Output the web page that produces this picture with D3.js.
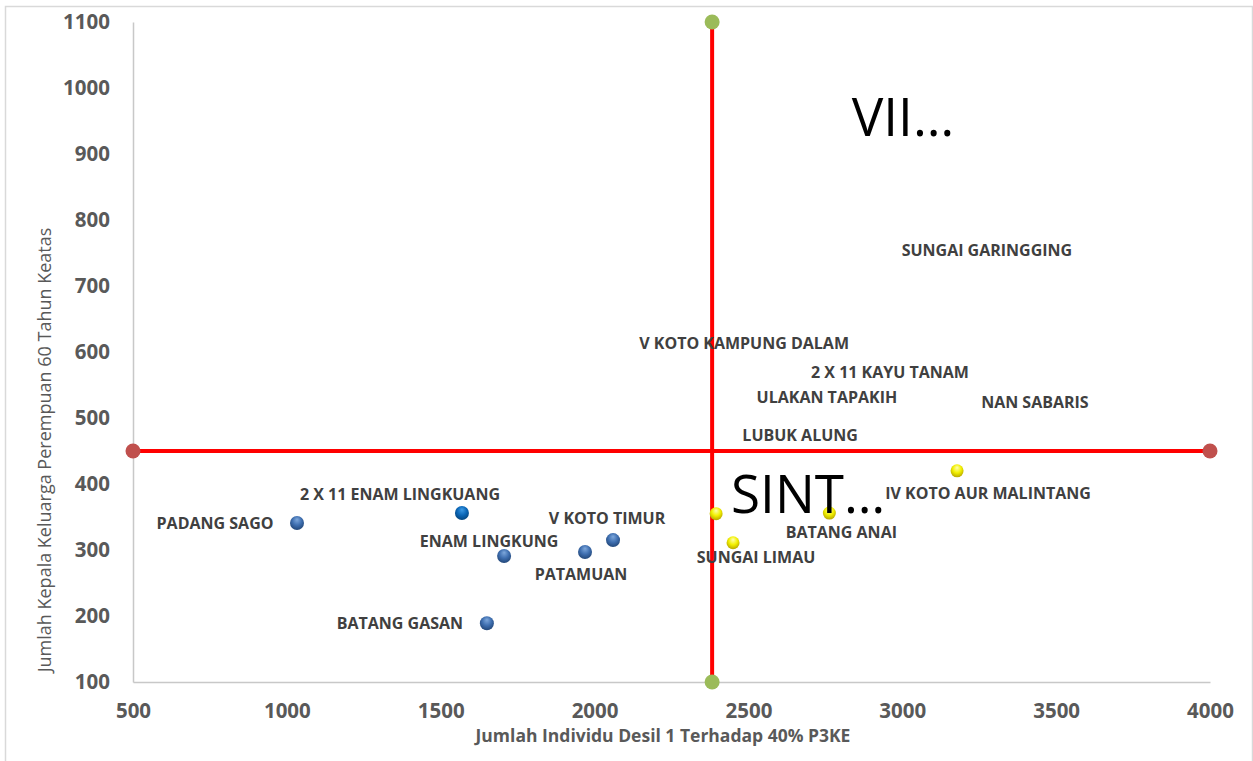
<!DOCTYPE html>
<html>
<head>
<meta charset="utf-8">
<script src="https://cdn.jsdelivr.net/npm/d3@7"></script>
<style>
body { margin: 0; background: #fff; }
svg { display: block; }
</style>
</head>
<body>
<div id="chart"></div>
<script>
// kecamatan data (x: individu desil 1, y: KK perempuan 60+)
const names = [
    'PADANG SAGO', '2 X 11 ENAM LINGKUANG', 'ENAM LINGKUNG', 'BATANG GASAN', 'PATAMUAN', 'V KOTO TIMUR',
    'SINT\u2026', 'SUNGAI LIMAU', 'BATANG ANAI', 'IV KOTO AUR MALINTANG',
    'V KOTO KAMPUNG DALAM', '2 X 11 KAYU TANAM', 'ULAKAN TAPAKIH', 'NAN SABARIS', 'LUBUK ALUNG',
    'SUNGAI GARINGGING', 'VII\u2026'
]
const xVals = [1033, 1569, 1706, 1650, 1969, 2060, 2395, 2450, 2763, 3178, 2486, 2960, 2755, 3431, 2668, 3275, 3002]
const yVals = [341, 356, 291, 189, 297, 315, 355, 311, 356, 420, 614, 570, 532, 524, 474, 755, 958]
const groups = ['blue', 'blue2', 'blue', 'blue', 'blue', 'blue',
    'yellow', 'yellow', 'yellow', 'yellow',
    'none', 'none', 'none', 'none', 'none', 'none', 'none']

// quadrant reference lines
const meanX = 2382
const meanY = 450
const xDomain = [500, 4000]
const yDomain = [100, 1100]
const xTicks = [500, 1000, 1500, 2000, 2500, 3000, 3500, 4000]
const yTicks = [100, 200, 300, 400, 500, 600, 700, 800, 900, 1000, 1100]

const xTitle = 'Jumlah Individu Desil 1 Terhadap 40% P3KE'
const yTitle = 'Jumlah Kepala Keluarga Perempuan 60 Tahun Keatas'

// label offsets (px, label centre relative to point)
const labelOffset = {
    'PADANG SAGO': [-82, 0],
    '2 X 11 ENAM LINGKUANG': [-62, -19],
    'ENAM LINGKUNG': [-15, -15],
    'BATANG GASAN': [-87, 0],
    'PATAMUAN': [-4, 22],
    'V KOTO TIMUR': [-6, -22],
    'SINT\u2026': [92, -21],
    'SUNGAI LIMAU': [23, 14],
    'BATANG ANAI': [12, 19],
    'IV KOTO AUR MALINTANG': [31, 22]
}

const width = 1253, height = 761
const font = '"Open Sans", "Noto Sans", sans-serif'

let svg = d3.select('#chart').append('svg')
    .attr('width', width)
    .attr('height', height)

// chart border
svg.append('path')
    .attr('d', `M5.5,${height} V6.5 H1252.5 V${height}`)
    .attr('fill', 'none')
    .attr('stroke', '#d9d9d9')
    .attr('stroke-width', 1.5)

let x = d3.scaleLinear().domain(xDomain).range([133, 1210])
let y = d3.scaleLinear().domain(yDomain).range([682, 22])

let defs = svg.append('defs')
function sphere(id, light, mid, dark) {
    let g = defs.append('radialGradient')
        .attr('id', id)
        .attr('cx', '50%').attr('cy', '40%').attr('r', '60%')
        .attr('fx', '50%').attr('fy', '25%')
    g.append('stop').attr('offset', '0%').attr('stop-color', light)
    g.append('stop').attr('offset', '55%').attr('stop-color', mid)
    g.append('stop').attr('offset', '100%').attr('stop-color', dark)
}
sphere('g-blue', '#7ea8dc', '#3f6fb0', '#23487a')
sphere('g-blue2', '#3d9be6', '#0b67b8', '#03457f')
sphere('g-yellow', '#ffffb0', '#f2f000', '#b8a800')

// axes
let xAxis = svg.append('g')
    .attr('transform', `translate(0,${y(yDomain[0])})`)
    .call(d3.axisBottom(x).tickValues(xTicks).tickSize(0).tickPadding(21).tickFormat(d3.format('d')))
let yAxis = svg.append('g')
    .attr('transform', `translate(${x(xDomain[0])},0)`)
    .call(d3.axisLeft(y).tickValues(yTicks).tickSize(0).tickPadding(23).tickFormat(d3.format('d')))

;[xAxis, yAxis].forEach(ax => {
    ax.select('.domain').attr('stroke', '#c8c8c8').attr('stroke-width', 1.5)
    ax.selectAll('text')
        .attr('font-family', font)
        .attr('font-size', 20.5)
        .attr('font-weight', 700)
        .attr('fill', '#595959')
})
xAxis.selectAll('text').attr('dy', '0.71em')

svg.append('text')
    .attr('x', 663)
    .attr('y', 735)
    .attr('text-anchor', 'middle')
    .attr('dominant-baseline', 'central')
    .attr('font-family', font)
    .attr('font-size', 17.5)
    .attr('font-weight', 700)
    .attr('fill', '#595959')
    .text(xTitle)

svg.append('text')
    .attr('transform', 'translate(44,450) rotate(-90)')
    .attr('text-anchor', 'middle')
    .attr('dominant-baseline', 'central')
    .attr('font-family', font)
    .attr('font-size', 18)
    .attr('fill', '#595959')
    .text(yTitle)

// red quadrant lines
let refGroup = svg.append('g')
refGroup.append('line')
    .attr('x1', x(xDomain[0])).attr('x2', x(xDomain[1]))
    .attr('y1', y(meanY)).attr('y2', y(meanY))
    .attr('stroke', '#ff0000').attr('stroke-width', 4)
refGroup.append('line')
    .attr('x1', x(meanX)).attr('x2', x(meanX))
    .attr('y1', y(yDomain[0])).attr('y2', y(yDomain[1]))
    .attr('stroke', '#ff0000').attr('stroke-width', 4)
refGroup.selectAll('circle.hend')
    .data(xDomain)
    .enter()
    .append('circle')
        .attr('class', 'hend')
        .attr('cx', d => x(d))
        .attr('cy', y(meanY))
        .attr('r', 7.5)
        .attr('fill', '#c0504d')
refGroup.selectAll('circle.vend')
    .data(yDomain)
    .enter()
    .append('circle')
        .attr('class', 'vend')
        .attr('cx', x(meanX))
        .attr('cy', d => y(d))
        .attr('r', 7.5)
        .attr('fill', '#9bbb59')

let points = names.map((name, i) => ({ name, x: xVals[i], y: yVals[i], group: groups[i] }))

svg.append('g').selectAll('circle.point')
    .data(points.filter(d => d.group != 'none'))
    .enter()
    .append('circle')
        .attr('class', 'point')
        .attr('cx', d => x(d.x))
        .attr('cy', d => y(d.y))
        .attr('r', d => d.group == 'yellow' ? 6.5 : 7)
        .attr('fill', d => `url(#g-${d.group})`)

svg.append('g').selectAll('text.label')
    .data(points)
    .enter()
    .append('text')
        .attr('class', 'label')
        .attr('x', d => x(d.x) + (labelOffset[d.name] || [0, 0])[0])
        .attr('y', d => y(d.y) + (labelOffset[d.name] || [0, 0])[1])
        .attr('text-anchor', 'middle')
        .attr('dominant-baseline', 'central')
        .attr('font-family', font)
        .attr('font-size', d => d.name.endsWith('\u2026') ? 53 : 16)
        .attr('font-weight', d => d.name.endsWith('\u2026') ? 400 : 700)
        .attr('fill', d => d.name.endsWith('\u2026') ? '#000' : '#404040')
        .text(d => d.name)
</script>
</body>
</html>
